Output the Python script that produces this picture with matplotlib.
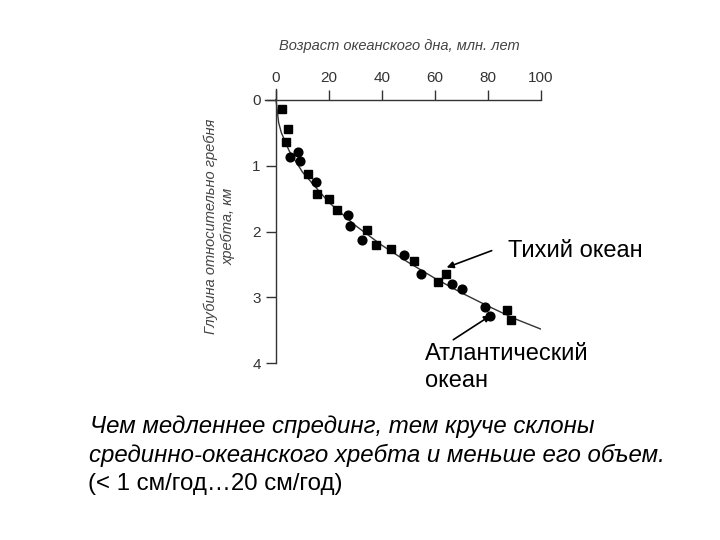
import matplotlib
matplotlib.use('Agg')
import matplotlib.pyplot as plt

plt.rcParams['font.family'] = ['Liberation Sans', 'DejaVu Sans']

# Тихий океан (квадраты)
sq_age = [2.1, 4.7, 3.6, 12.2, 15.3, 19.9, 23.0, 34.5, 37.9, 43.4, 52.2, 64.3, 61.0, 87.0, 88.7]
sq_depth = [0.14, 0.44, 0.65, 1.13, 1.43, 1.50, 1.68, 1.97, 2.21, 2.27, 2.44, 2.65, 2.77, 3.19, 3.34]

# Атлантический океан (кружки)
ci_age = [5.2, 8.2, 9.2, 15.1, 27.0, 27.9, 32.6, 48.3, 54.7, 66.5, 70.3, 79.0, 80.9]
ci_depth = [0.87, 0.79, 0.93, 1.25, 1.75, 1.92, 2.13, 2.36, 2.65, 2.80, 2.87, 3.15, 3.28]

# кривая
curve_age = [0, 1, 2, 5, 10, 20, 30, 40, 50, 60, 70, 80, 90, 100]
curve_depth = [0, 0.35, 0.5, 0.78, 1.1, 1.56, 1.91, 2.21, 2.47, 2.71, 2.93, 3.13, 3.32, 3.48]

xticks = [0, 20, 40, 60, 80, 100]
yticks = [0, 1, 2, 3, 4]

fig = plt.figure(figsize=(7.2, 5.4), dpi=100)
ax = fig.add_axes([0.3686, 0.3269, 0.3828, 0.5083])

ax.plot(curve_age, curve_depth, color='#333333', lw=1.0)
ax.plot(sq_age, sq_depth, 's', color='black', ms=6)
ax.plot(ci_age, ci_depth, 'o', color='black', ms=6.3)

ax.set_xlim(-4, 100)
ax.set_ylim(4, -0.16)
ax.spines['right'].set_visible(False)
ax.spines['bottom'].set_visible(False)
ax.spines['top'].set_position(('data', 0))
ax.spines['left'].set_position(('data', 0))
for s in ['top', 'left']:
    ax.spines[s].set_color('#333333')
    ax.spines[s].set_linewidth(1.0)

ax.xaxis.tick_top()
ax.set_xticks(xticks)
ax.set_yticks(yticks)
ax.tick_params(axis='both', direction='out', length=7, width=1, color='#333333',
               labelcolor='#333333', labelsize=11)
ax.tick_params(axis='y', pad=4)

fig.text(0.555, 0.915, 'Возраст океанского дна, млн. лет', ha='center', va='center',
         style='italic', fontsize=10.5, color='#444444')
fig.text(0.305, 0.58, 'Глубина относительно гребня\nхребта, км', ha='center', va='center',
         rotation=90, style='italic', fontsize=10.5, color='#444444', linespacing=1.3)

# подписи и стрелки
ax.text(87.5, 2.386, 'Тихий океан', fontsize=17, ha='left', va='baseline', clip_on=False)
ax.annotate('', xy=(64.4, 2.545), xytext=(81.4, 2.29), annotation_clip=False,
            arrowprops=dict(arrowstyle='-|>', color='black', lw=1.2,
                            shrinkA=0, shrinkB=0, mutation_scale=10))
ax.text(56.2, 3.947, 'Атлантический', fontsize=17, ha='left', va='baseline', clip_on=False)
ax.text(56.2, 4.356, 'океан', fontsize=17, ha='left', va='baseline', clip_on=False)
ax.annotate('', xy=(81.1, 3.27), xytext=(66.9, 3.64), annotation_clip=False,
            arrowprops=dict(arrowstyle='-|>', color='black', lw=1.2,
                            shrinkA=0, shrinkB=0, mutation_scale=10))

fig.text(0.125, 0.198, 'Чем медленнее спрединг, тем круче склоны', style='italic',
         fontsize=17.3, ha='left', va='baseline')
fig.text(0.124, 0.1444, 'срединно-океанского хребта и меньше его объем.', style='italic',
         fontsize=17.3, ha='left', va='baseline')
fig.text(0.122, 0.0926, '(< 1 см/год…20 см/год)', fontsize=17.3, ha='left', va='baseline')

fig.savefig('out.png', dpi=100)
